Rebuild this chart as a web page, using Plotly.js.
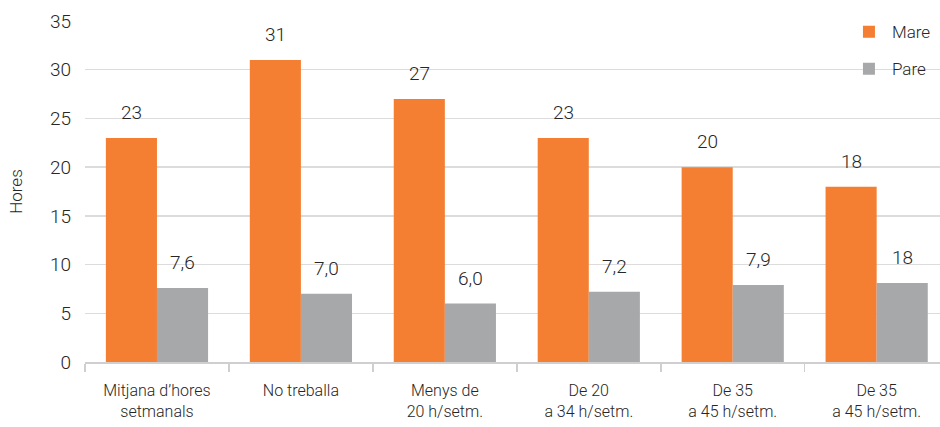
<!DOCTYPE html>
<html><head><meta charset="utf-8">
<script src="https://cdn.plot.ly/plotly-3.0.1.min.js"></script>
<style>html,body{margin:0;padding:0;background:#fff;overflow:hidden}</style>
</head><body>
<div id="chart" style="width:940px;height:427px"></div>
<script>
const categories = ["Mitjana d’hores<br>setmanals", "No treballa", "Menys de<br>20 h/setm.", "De 20<br>a 34 h/setm.", "De 35<br>a 45 h/setm.", "De 35<br>a 45 h/setm."];
const catKeys = ["c0","c1","c2","c3","c4","c5"];
const mareValues = [23, 31, 27, 23, 20, 18];
const pareValues = [7.6, 7.0, 6.0, 7.2, 7.9, 8.1];
const mareLabels = ["23", "31", "27", "23", "20", "18"];
const pareLabels = ["7,6", "7,0", "6,0", "7,2", "7,9", "18"];
const yTicks = [0, 5, 10, 15, 20, 25, 30, 35];

const FONT = "Roboto, 'Liberation Sans', sans-serif";
const TXT = "#262626";
const ORANGE = "#F47E32";
const GREY = "#A7A8AA";
const W = 300;

const traces = [
  {type:"bar", name:"Mare", x:catKeys, y:mareValues, marker:{color:ORANGE}, hoverinfo:"none", legendgroup:"a"},
  {type:"bar", name:"Pare", x:catKeys, y:pareValues, marker:{color:GREY}, hoverinfo:"none", legendgroup:"b"}
];

const annotations = [];
catKeys.forEach((k,i)=>{
  annotations.push({x:k, y:mareValues[i], xref:"x", yref:"y", text:mareLabels[i], showarrow:false,
    xshift:-25.5, yshift:12, yanchor:"bottom", font:{family:FONT, size:19, color:TXT, weight:W}});
  annotations.push({x:k, y:pareValues[i], xref:"x", yref:"y", text:pareLabels[i], showarrow:false,
    xshift:25.5, yshift:12, yanchor:"bottom", font:{family:FONT, size:19, color:TXT, weight:W}});
});

const layout = {
  width:940, height:427,
  margin:{l:85, r:0, t:21, b:65},
  paper_bgcolor:"#fff", plot_bgcolor:"#fff",
  barmode:"group", bargap:0.29, bargroupgap:0,
  font:{family:FONT, color:TXT, weight:W},
  xaxis:{
    type:"category", range:[-0.5, 5.44],
    tickmode:"array", tickvals:catKeys, ticktext:categories,
    tickson:"boundaries", ticks:"outside", ticklen:8, tickcolor:"#cfcfcf", tickwidth:1.5,
    showline:true, linecolor:"#cfcfcf", linewidth:1.5,
    showgrid:false, zeroline:false, ticklabelstandoff:13,
    tickfont:{family:FONT, size:16, color:TXT, weight:W}
  },
  yaxis:{
    range:[0,35], tickmode:"array", tickvals:yTicks,
    showgrid:true, gridcolor:"#dcdcdc", gridwidth:1.5,
    zeroline:false, showline:false, ticks:"",
    ticklabelstandoff:13,
    tickfont:{family:FONT, size:19, color:TXT, weight:W},
    title:{text:"Hores", standoff:22, font:{family:FONT, size:17, color:TXT, weight:W}}
  },
  legend:{x:0.89, xanchor:"left", y:1.02, yanchor:"top", bgcolor:"rgba(0,0,0,0)",
    font:{family:FONT, size:17, color:TXT, weight:W}, traceorder:"grouped", tracegroupgap:12, itemwidth:36},
  annotations:annotations,
  showlegend:true
};
Plotly.newPlot("chart", traces, layout, {displayModeBar:false, staticPlot:true});
</script>
</body></html>
